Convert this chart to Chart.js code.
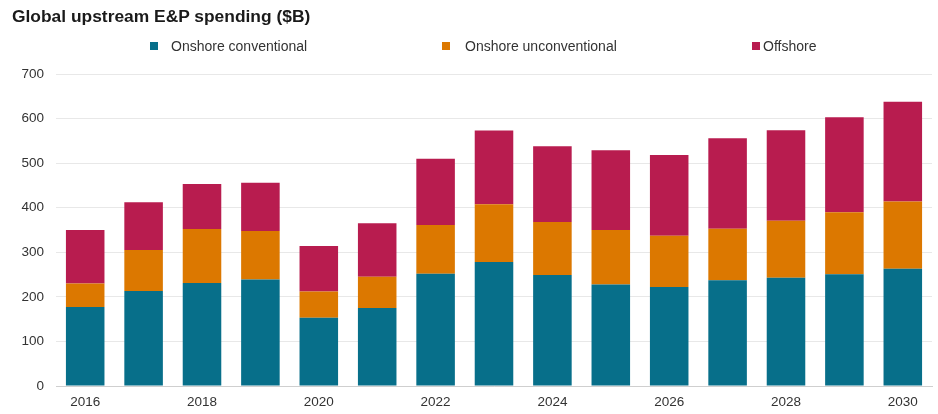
<!DOCTYPE html>
<html>
<head>
<meta charset="utf-8">
<script src="https://cdn.jsdelivr.net/npm/chart.js@4.4.1/dist/chart.umd.min.js"></script>
<style>
  body { margin: 0; background: #fff; font-family: "Liberation Sans", Arial, sans-serif; }
  #wrap { position: relative; width: 938px; height: 414px; }
  #title { position: absolute; left: 12px; top: 6px; font-size: 17.4px; font-weight: bold; color: #1a1a1a; }
  .leg { position: absolute; top: 38px; font-size: 14px; color: #333; white-space: nowrap; }
  .leg i { display: inline-block; width: 8px; height: 8px; vertical-align: 1px; }
  canvas { position: absolute; left: 0; top: 0; }
</style>
</head>
<body>
<div id="wrap">
  <canvas id="chart" width="938" height="414"></canvas>
  <div id="title">Global upstream E&amp;P spending ($B)</div>
  <div id="legend"></div>
</div>
<script>
// Chart data
const years = ["2016", "2017", "2018", "2019", "2020", "2021", "2022", "2023",
               "2024", "2025", "2026", "2027", "2028", "2029", "2030"];
const onshoreConventional = [177, 213, 231, 239, 153, 175, 252, 278, 249, 228, 222, 237, 243, 251, 263];
const onshoreUnconventional = [53, 92, 121, 109, 59, 70, 109, 130, 119, 122, 115, 116, 128, 139, 151];
const offshore = [120, 107, 101, 108, 102, 120, 149, 165, 170, 179, 181, 203, 203, 213, 224];

const seriesNames = ["Onshore conventional", "Onshore unconventional", "Offshore"];
const seriesColors = ["#076f8a", "#dc7800", "#b81c4f"];

// HTML legend, spaced like the original (offshore marker sits closer to its text)
const legendX = [150, 442, 752];
const legendGap = [13, 15, 3];
const legendEl = document.getElementById("legend");
seriesNames.forEach((name, i) => {
  const item = document.createElement("div");
  item.className = "leg";
  item.style.left = legendX[i] + "px";
  item.innerHTML = '<i style="background:' + seriesColors[i] + ';margin-right:' + legendGap[i] + 'px"></i>' + name;
  legendEl.appendChild(item);
});

const ctx = document.getElementById("chart").getContext("2d");
new Chart(ctx, {
  type: "bar",
  data: {
    labels: years,
    datasets: [onshoreConventional, onshoreUnconventional, offshore].map((values, i) => ({
      label: seriesNames[i],
      data: values,
      backgroundColor: seriesColors[i],
      borderWidth: 0,
      barPercentage: 0.66,
      categoryPercentage: 1
    }))
  },
  options: {
    responsive: false,
    animation: false,
    layout: {
      padding: { top: 74, right: 6, bottom: 0, left: 0 }
    },
    plugins: {
      legend: { display: false },
      tooltip: { enabled: false }
    },
    scales: {
      x: {
        stacked: true,
        afterFit: (scale) => { scale.height = 28; },
        grid: { display: false, drawTicks: false },
        border: { color: "#cfcfcf" },
        ticks: {
          autoSkip: false,
          maxRotation: 0,
          padding: 8,
          color: "#333",
          font: { family: "Liberation Sans", size: 13.5 },
          callback: function(value, index) {
            return index % 2 === 0 ? this.getLabelForValue(value) : "";
          }
        }
      },
      y: {
        stacked: true,
        min: 0,
        max: 700,
        afterFit: (scale) => { scale.width = 56; },
        grid: { color: "#e8e8e8", drawTicks: false },
        border: { display: false },
        ticks: {
          stepSize: 100,
          padding: 12,
          color: "#333",
          font: { family: "Liberation Sans", size: 13.5 }
        }
      }
    }
  }
});
</script>
</body>
</html>
